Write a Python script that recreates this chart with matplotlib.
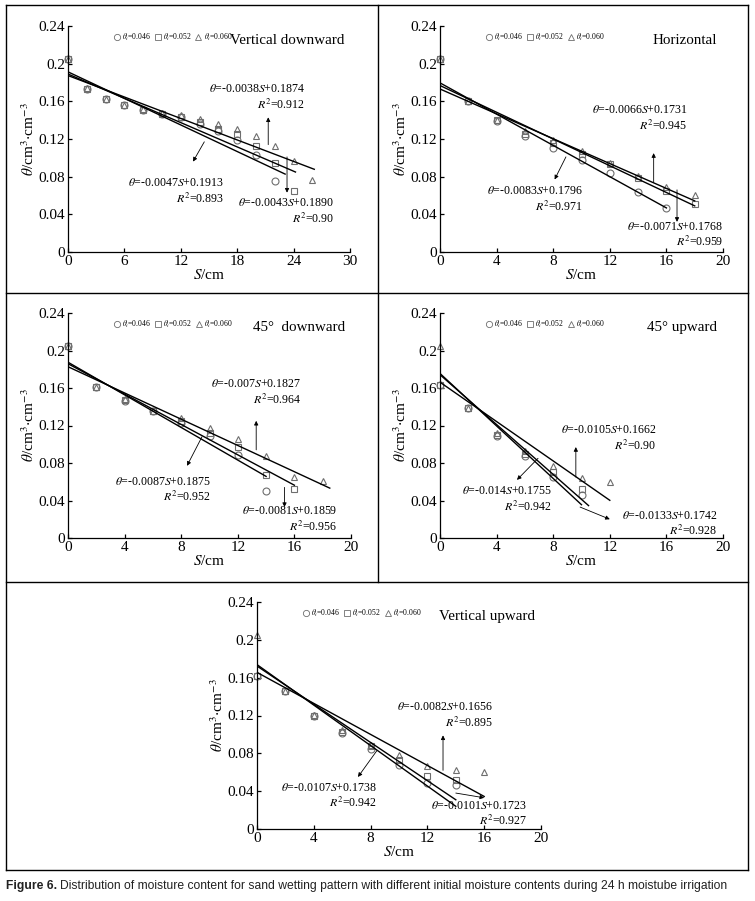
import numpy as np
import matplotlib
matplotlib.use("Agg")
import matplotlib.pyplot as plt
from matplotlib.lines import Line2D

plt.rcParams['font.family'] = ['Liberation Serif', 'DejaVu Serif']
plt.rcParams['mathtext.fontset'] = 'stix'

# ---- data ----
S_vd = [0, 2, 4, 6, 8, 10, 12, 14, 16, 18, 20, 22, 24, 26]
vd_046 = [0.205, 0.173, 0.162, 0.156, 0.151, 0.147, 0.143, 0.136, 0.129, 0.119, 0.103, 0.075]
vd_052 = [0.205, 0.173, 0.163, 0.156, 0.151, 0.147, 0.143, 0.138, 0.131, 0.125, 0.113, 0.094, 0.065]
vd_060 = [0.205, 0.174, 0.163, 0.156, 0.152, 0.148, 0.145, 0.141, 0.136, 0.131, 0.123, 0.113, 0.097, 0.076]

S_h = [0, 2, 4, 6, 8, 10, 12, 14, 16, 18]
h_046 = [0.205, 0.160, 0.139, 0.123, 0.110, 0.098, 0.084, 0.064, 0.047]
h_052 = [0.205, 0.160, 0.140, 0.125, 0.116, 0.104, 0.093, 0.079, 0.065, 0.051]
h_060 = [0.205, 0.160, 0.140, 0.128, 0.119, 0.107, 0.095, 0.081, 0.069, 0.061]

S_45d = [0, 2, 4, 6, 8, 10, 12, 14, 16, 18]
d45_046 = [0.205, 0.161, 0.146, 0.135, 0.123, 0.109, 0.089, 0.050]
d45_052 = [0.205, 0.161, 0.147, 0.135, 0.125, 0.112, 0.097, 0.067, 0.052]
d45_060 = [0.205, 0.161, 0.148, 0.135, 0.128, 0.117, 0.106, 0.087, 0.065, 0.061]

S_45u = [0, 2, 4, 6, 8, 10, 12]
u45_046 = [0.163, 0.139, 0.109, 0.088, 0.065, 0.046]
u45_052 = [0.163, 0.139, 0.110, 0.090, 0.070, 0.052]
u45_060 = [0.205, 0.139, 0.112, 0.093, 0.077, 0.064, 0.060]

S_vu = [0, 2, 4, 6, 8, 10, 12, 14, 16]
vu_046 = [0.162, 0.146, 0.120, 0.101, 0.085, 0.068, 0.049, 0.046]
vu_052 = [0.162, 0.146, 0.120, 0.103, 0.088, 0.073, 0.056, 0.052]
vu_060 = [0.205, 0.146, 0.121, 0.105, 0.089, 0.078, 0.067, 0.062, 0.060]

# linear fits: (slope, intercept, S_end) for θi = 0.046, 0.052, 0.060
fit_vd = [(-0.0047, 0.1913, 23.1), (-0.0043, 0.1890, 24.2), (-0.0038, 0.1874, 26.2)]
fit_h = [(-0.0083, 0.1796, 16), (-0.0071, 0.1768, 18), (-0.0066, 0.1731, 18)]
fit_45d = [(-0.0087, 0.1875, 14), (-0.0081, 0.1859, 16), (-0.0070, 0.1827, 18.5)]
fit_45u = [(-0.0140, 0.1755, 10), (-0.0133, 0.1742, 10.5), (-0.0105, 0.1662, 12)]
fit_vu = [(-0.0107, 0.1738, 14), (-0.0101, 0.1723, 14), (-0.0082, 0.1656, 16)]

# equation labels: (text, text S, text θ, arrow from, arrow to)
lab_vd = [
    ("$\\theta$=-0.0047$S$+0.1913\n$R^2$=0.893", 16.6, 0.064, (14.5, 0.117), (13.3, 0.096)),
    ("$\\theta$=-0.0043$S$+0.1890\n$R^2$=0.90", 28.3, 0.043, (23.3, 0.101), (23.3, 0.063)),
    ("$\\theta$=-0.0038$S$+0.1874\n$R^2$=0.912", 25.2, 0.164, (21.3, 0.114), (21.3, 0.143)),
]
lab_h = [
    ("$\\theta$=-0.0083$S$+0.1796\n$R^2$=0.971", 10.1, 0.056, (8.9, 0.101), (8.1, 0.077)),
    ("$\\theta$=-0.0071$S$+0.1768\n$R^2$=0.959", 20.0, 0.018, (16.75, 0.066), (16.75, 0.032)),
    ("$\\theta$=-0.0066$S$+0.1731\n$R^2$=0.945", 17.5, 0.142, (15.1, 0.074), (15.1, 0.105)),
]
lab_45d = [
    ("$\\theta$=-0.0087$S$+0.1875\n$R^2$=0.952", 10.1, 0.051, (9.47, 0.108), (8.41, 0.077)),
    ("$\\theta$=-0.0081$S$+0.1859\n$R^2$=0.956", 19.0, 0.020, (15.3, 0.054), (15.3, 0.033)),
    ("$\\theta$=-0.007$S$+0.1827\n$R^2$=0.964", 16.5, 0.155, (13.3, 0.094), (13.3, 0.125)),
]
lab_45u = [
    ("$\\theta$=-0.014$S$+0.1755\n$R^2$=0.942", 7.9, 0.041, (6.93, 0.085), (5.44, 0.062)),
    ("$\\theta$=-0.0133$S$+0.1742\n$R^2$=0.928", 19.6, 0.015, (9.9, 0.033), (12.0, 0.020)),
    ("$\\theta$=-0.0105$S$+0.1662\n$R^2$=0.90", 15.3, 0.106, (9.6, 0.065), (9.6, 0.097)),
]
lab_vu = [
    ("$\\theta$=-0.0107$S$+0.1738\n$R^2$=0.942", 8.45, 0.035, (8.45, 0.083), (7.11, 0.055)),
    ("$\\theta$=-0.0101$S$+0.1723\n$R^2$=0.927", 19.0, 0.016, (14.0, 0.038), (16.0, 0.033)),
    ("$\\theta$=-0.0082$S$+0.1656\n$R^2$=0.895", 16.6, 0.120, (13.1, 0.062), (13.1, 0.099)),
]

series_names = ["$\\theta_i$=0.046", "$\\theta_i$=0.052", "$\\theta_i$=0.060"]
markers = ['o', 's', '^']
y_ticks = [0, 0.04, 0.08, 0.12, 0.16, 0.2, 0.24]
y_ticklabels = ["0", "0.04", "0.08", "0.12", "0.16", "0.2", "0.24"]

W, H = 755, 901
fig = plt.figure(figsize=(W / 100, H / 100), dpi=100)


def px_axes(x0, y0, x1, y1):
    return fig.add_axes([x0 / W, 1 - y1 / H, (x1 - x0) / W, (y1 - y0) / H])


def panel(ax, S, ys, fits, labels, title, xmax, xstep):
    gray = '#6e6e6e'
    for y, m in zip(ys, markers):
        ax.plot(S[:len(y)], y, linestyle='none', marker=m, ms=5, mfc='none',
                mec=gray, mew=0.8, clip_on=False)
    for a, b, s1 in fits:
        xs = np.array([0, s1])
        ax.plot(xs, a * xs + b, color='black', lw=1.0)
    for txt, tx, ty, p0, p1 in labels:
        ax.text(tx, ty, txt, fontsize=8.6, ha='right', va='center',
                multialignment='right', linespacing=1.2)
        ax.annotate('', xy=p1, xytext=p0,
                    arrowprops=dict(arrowstyle='-|>', lw=0.6, color='black',
                                    mutation_scale=6, shrinkA=0, shrinkB=0))
    handles = [Line2D([], [], linestyle='none', marker=m, ms=4.5, mfc='none',
                      mec=gray, mew=0.6) for m in markers]
    ax.legend(handles, series_names, loc='upper left', bbox_to_anchor=(0.14, 1.0),
              ncol=3, frameon=False, fontsize=5.5, handlelength=1.0,
              handletextpad=0.2, columnspacing=0.4, borderaxespad=0.3)
    ax.text(0.98, 0.935, title, transform=ax.transAxes, fontsize=10.8,
            ha='right', va='center')
    ax.set_xlim(0, xmax)
    ax.set_ylim(0, 0.24)
    ax.set_xticks(np.arange(0, xmax + 1, xstep))
    ax.set_yticks(y_ticks)
    ax.set_yticklabels(y_ticklabels)
    for sp in ['top', 'right']:
        ax.spines[sp].set_visible(False)
    for sp in ['left', 'bottom']:
        ax.spines[sp].set_linewidth(0.9)
    ax.tick_params(direction='in', length=3, width=0.9, labelsize=11, pad=2)
    ax.set_xlabel("$S$/cm", fontsize=11, labelpad=0)
    ax.set_ylabel("$\\theta$/cm$^3$$\\cdot$cm$^{-3}$", fontsize=11, labelpad=1)
    ax.patch.set_alpha(0)


ax1 = px_axes(68, 26, 350, 252)
panel(ax1, S_vd, [vd_046, vd_052, vd_060], fit_vd, lab_vd, "Vertical downward", 30, 6)
ax2 = px_axes(440, 26, 723, 252)
panel(ax2, S_h, [h_046, h_052, h_060], fit_h, lab_h, "Horizontal", 20, 4)
ax3 = px_axes(68, 313, 351, 538)
panel(ax3, S_45d, [d45_046, d45_052, d45_060], fit_45d, lab_45d, "45°  downward", 20, 4)
ax4 = px_axes(440, 313, 723, 538)
panel(ax4, S_45u, [u45_046, u45_052, u45_060], fit_45u, lab_45u, "45° upward", 20, 4)
ax5 = px_axes(257, 602, 541, 829)
panel(ax5, S_vu, [vu_046, vu_052, vu_060], fit_vu, lab_vu, "Vertical upward", 20, 4)

# panel frames
frame = dict(color='black', lw=1.0, transform=fig.transFigure)
xl, xr = 6 / W, 748 / W
for yy in [5, 293, 582, 870]:
    fig.add_artist(Line2D([xl, xr], [1 - yy / H] * 2, **frame))
fig.add_artist(Line2D([xl, xl], [1 - 5 / H, 1 - 870 / H], **frame))
fig.add_artist(Line2D([xr, xr], [1 - 5 / H, 1 - 870 / H], **frame))
fig.add_artist(Line2D([378 / W] * 2, [1 - 5 / H, 1 - 582 / H], **frame))

# caption
cap_font = ['Liberation Sans Narrow', 'Liberation Sans', 'DejaVu Sans']
t1 = fig.text(6 / W, 1 - 886 / H, "Figure 6.", fontsize=8.7, fontweight='bold',
              family=cap_font, va='center', color='#222222')
fig.canvas.draw()
bb = t1.get_window_extent()
fig.text((bb.x1 + 3) / W, 1 - 886 / H,
         "Distribution of moisture content for sand wetting pattern with different "
         "initial moisture contents during 24 h moistube irrigation",
         fontsize=8.7, family=cap_font, va='center', color='#222222')

fig.savefig("out.png", dpi=100)
